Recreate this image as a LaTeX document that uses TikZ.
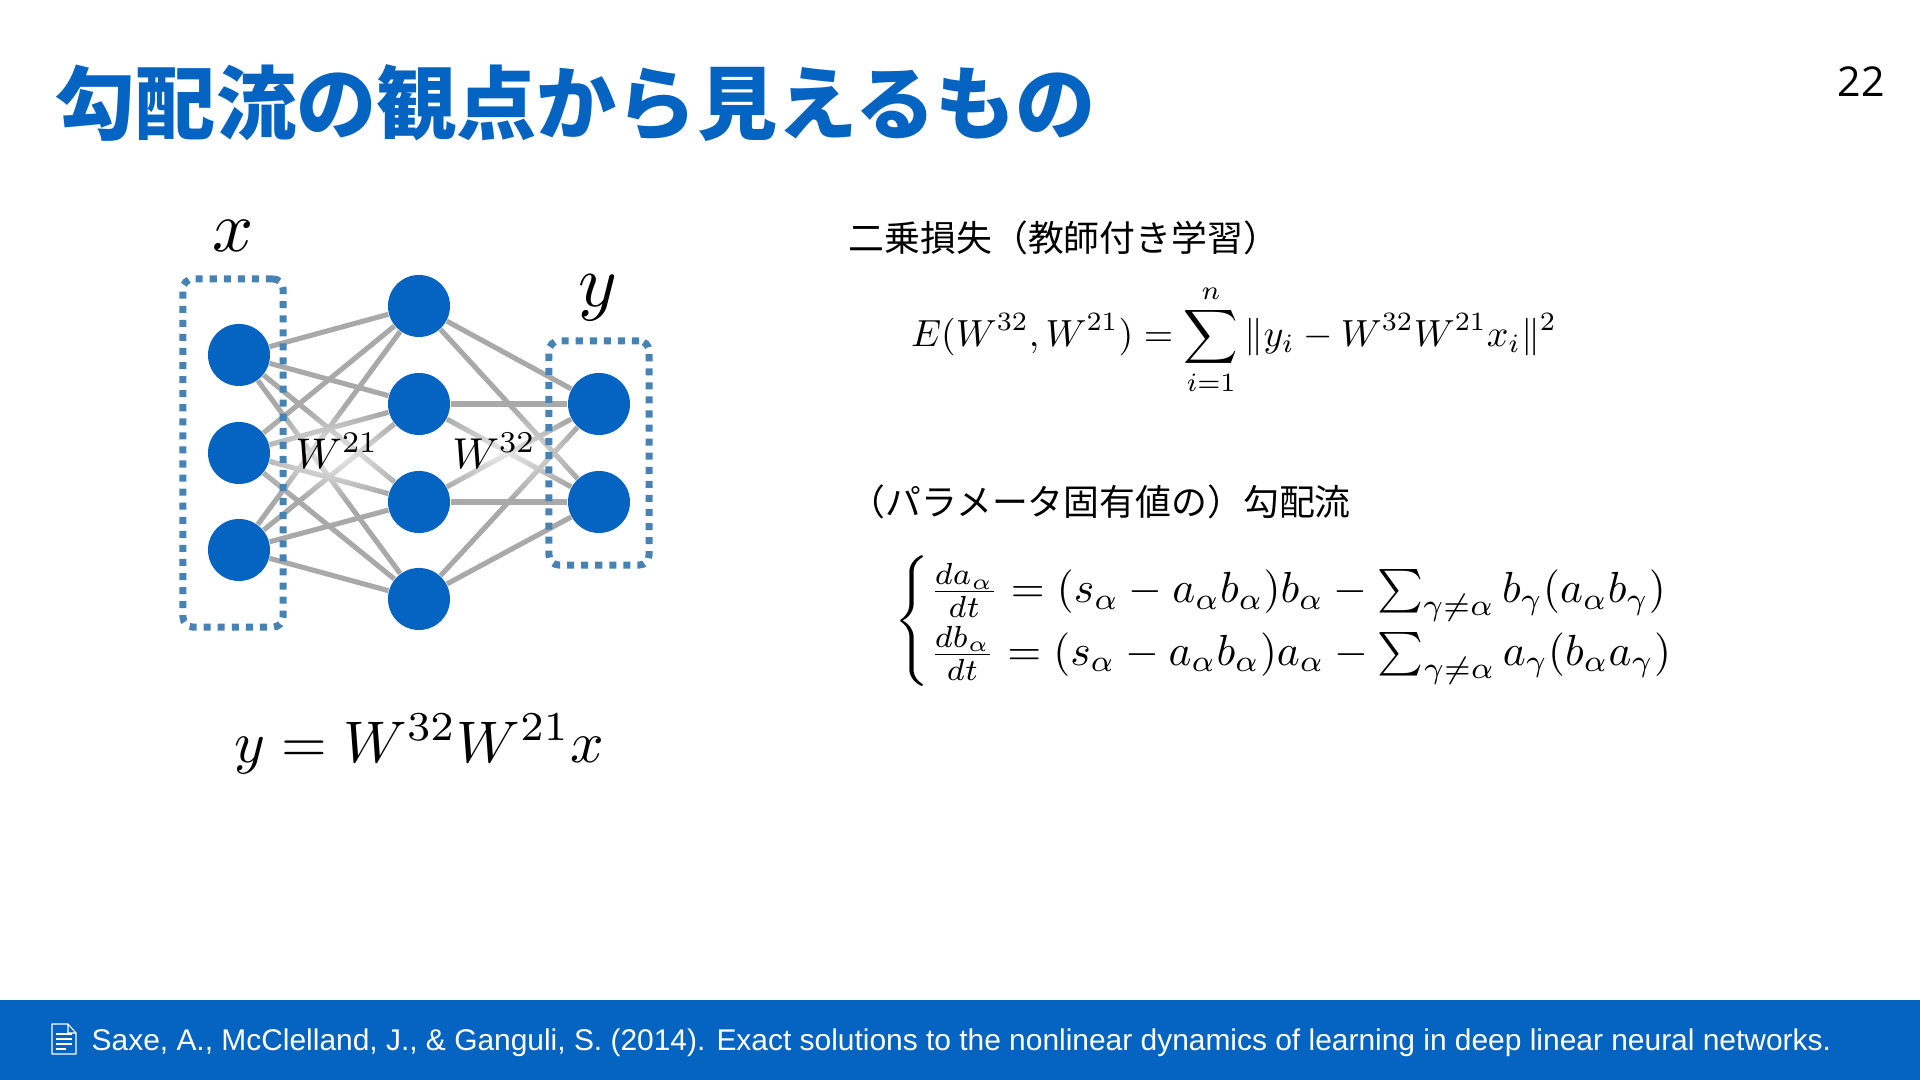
\documentclass[tikz,border=0pt]{standalone}
\usepackage{amsmath}
\usepackage{fontspec}
\usetikzlibrary{backgrounds,fadings}
\newfontfamily\jpfont{Noto Sans CJK JP}
\newfontfamily\footfont{Liberation Sans}
\newfontfamily\numfont{Open Sans}
\definecolor{slideblue}{HTML}{0563C1}
\definecolor{dotblue}{HTML}{4682B4}
\definecolor{edgegray}{HTML}{A9A9A9}
\tikzfading[name=glowfade,inner color=transparent!25,outer color=transparent!100]
\tikzset{
  neuron/.style={circle,fill=slideblue,minimum size=0.62cm,inner sep=0pt},
  edgeline/.style={edgegray,line width=1.45pt},
  dotbox/.style={draw=dotblue,line width=2pt,rounded corners=0.1cm,dash pattern=on 2pt off 2pt,
    minimum width=1cm,inner sep=0pt},
  heading/.style={anchor=west,inner sep=0pt,font=\jpfont\fontsize{10.2}{12}\selectfont},
}
\begin{document}
\begin{tikzpicture}[x=0.01cm,y=-0.01cm]
  \useasboundingbox (0,0) rectangle (1920,1080);
  \fill[slideblue] (0,1000) rectangle (1920,1080);   % footer bar
  \node[anchor=west,inner sep=0pt,text=slideblue,font=\jpfont\bfseries\fontsize{22.8}{27}\selectfont]
    (title) at (55,103) {勾配流の観点から見えるもの};
  \node[inner sep=0pt,font=\numfont\fontsize{11.7}{14}\selectfont] (page) at (1861,82) {22};

  % network
  \foreach \i/\y in {1/355,2/453,3/550}
    \node[neuron] (in\i) at (239,\y) {};
  \foreach \i/\y in {1/306,2/404,3/502,4/599}
    \node[neuron] (mid\i) at (419,\y) {};
  \foreach \i/\y in {1/404,2/502}
    \node[neuron] (out\i) at (599,\y) {};
  \begin{scope}[on background layer]
    \foreach \i in {1,2,3}
      \foreach \j in {1,2,3,4}
        \draw[edgeline] (in\i) -- (mid\j);
    \foreach \j in {1,2,3,4}
      \foreach \k in {1,2}
        \draw[edgeline] (mid\j) -- (out\k);
    \fill[white,path fading=glowfade] (335,455) ellipse (90 and 48);  % glow round W21
    \fill[white,path fading=glowfade] (500,453) ellipse (90 and 46);  % glow round W32
  \end{scope}
  \node[dotbox,minimum height=3.48cm] (inbox) at (233,453) {};
  \node[dotbox,minimum height=2.24cm] (outbox) at (599,453) {};
  \node[scale=2.05] (xlab) at (233,236) {$x$};
  \node[scale=2.1] (ylab) at (598,298) {$y$};
  \node[scale=1.22] (w21) at (337,451) {$W^{21}$};
  \node[scale=1.23] (w32) at (494,451) {$W^{32}$};
  \node[scale=1.67] (netfn) at (419,744) {$y=W^{32}W^{21}x$};

  % right column
  \node[heading] (losshead) at (848,238) {二乗損失（教師付き学習）};
  \node[scale=1.075] (losseq) at (1234,339.5)
    {$\displaystyle E(W^{32},W^{21})=\sum_{i=1}^{n}\|y_i-W^{32}W^{21}x_i\|^2$};
  \node[heading] (flowhead) at (849,501.5) {（パラメータ固有値の）勾配流};
  \node[scale=1.238] (floweq) at (1307,621.5) {$\begin{cases}
      \frac{da_\alpha}{dt}=(s_\alpha-a_\alpha b_\alpha)b_\alpha-\sum_{\gamma\neq\alpha}b_\gamma(a_\alpha b_\gamma)\\
      \frac{db_\alpha}{dt}=(s_\alpha-a_\alpha b_\alpha)a_\alpha-\sum_{\gamma\neq\alpha}a_\gamma(b_\alpha a_\gamma)
    \end{cases}$};

  % footer
  \draw[white,line width=0.3pt,line join=round]
    (52,1024) -- (68,1024) -- (76,1033) -- (76,1054) -- (52,1054) -- cycle
    (68,1024) -- (68,1033) -- (76,1033);
  \foreach \y in {1034,1039,1044}
    \draw[white,line width=0.3pt] (56,\y) -- (72,\y);
  \draw[white,line width=0.3pt] (56,1049) -- (66,1049);
  \node[anchor=west,inner sep=0pt,text=white,font=\footfont\fontsize{8.51}{10}\selectfont] (refnote) at (91,1042.5)
    {Saxe, A., McClelland, J., \& Ganguli, S. (2014). Exact solutions to the nonlinear dynamics of learning in deep linear neural networks.};
\end{tikzpicture}
\end{document}
